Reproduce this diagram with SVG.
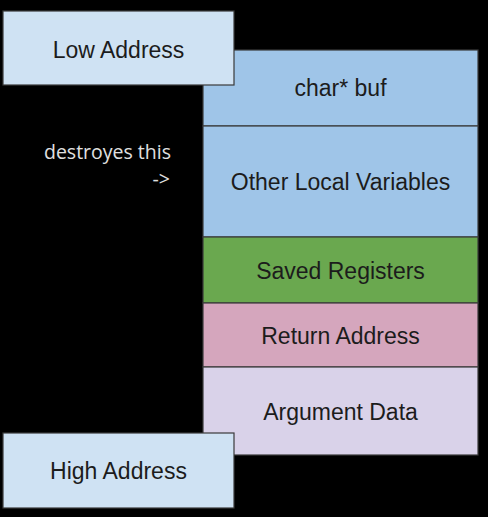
<svg xmlns="http://www.w3.org/2000/svg" width="488" height="517" viewBox="0 0 488 517">
<style>
.box{stroke:#3a3a3a;stroke-width:1.2}
.lbl{font-family:"Liberation Sans",Arial,sans-serif;font-size:23px;fill:#1c1c1c;text-anchor:middle}
.note{font-family:"Open Sans",sans-serif;font-size:19.5px;fill:#e0e0e0;text-anchor:end}
</style>
<rect width="488" height="517" fill="#000"/>
<g id="stack">
<g id="buf"><rect class="box" x="203" y="50" width="275" height="76" fill="#9fc5e8"/><text class="lbl" x="340.5" y="96">char* buf</text></g>
<g id="locals"><rect class="box" x="203" y="126" width="275" height="111" fill="#9fc5e8"/><text class="lbl" x="340.5" y="190">Other Local Variables</text></g>
<g id="saved"><rect class="box" x="203" y="237" width="275" height="66" fill="#6aa84f"/><text class="lbl" x="340.5" y="279">Saved Registers</text></g>
<g id="ret"><rect class="box" x="203" y="303" width="275" height="64" fill="#d5a6bd"/><text class="lbl" x="340.5" y="344">Return Address</text></g>
<g id="args"><rect class="box" x="203" y="367" width="275" height="88" fill="#d9d2e9"/><text class="lbl" x="340.5" y="420">Argument Data</text></g>
</g>
<g id="low"><rect class="box" x="3" y="11" width="231" height="74" fill="#cfe2f3"/><text class="lbl" x="118.5" y="58">Low Address</text></g>
<g id="high"><rect class="box" x="3" y="433" width="231" height="75" fill="#cfe2f3"/><text class="lbl" x="118.5" y="479">High Address</text></g>
<g id="note"><text class="note" x="171" y="159">destroyes this</text><text class="note" x="170" y="186">-&gt;</text></g>
<g id="connectors"/>
</svg>
